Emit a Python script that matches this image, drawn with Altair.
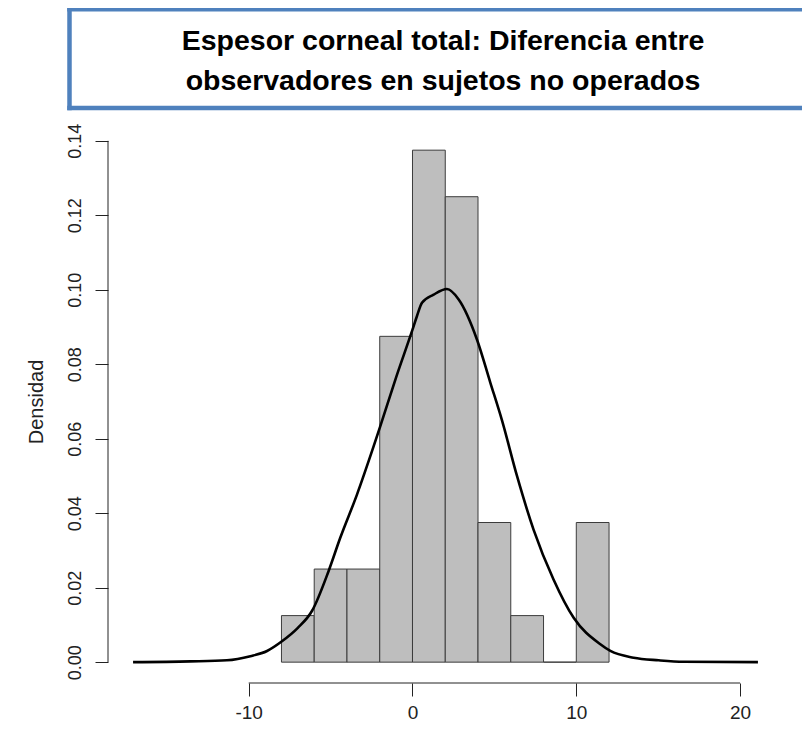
import altair as alt
import pandas as pd

# Histogram (density scale), breaks of width 2
bin_left = [-8, -6, -4, -2, 0, 2, 4, 6, 8, 10]
bin_right = [-6, -4, -2, 0, 2, 4, 6, 8, 10, 12]
bin_density = [0.0125, 0.025, 0.025, 0.0875, 0.1375, 0.125, 0.0375, 0.0125, 0.0, 0.0375]

# Kernel density curve
dens_x = [-17.06, -13.57, -11.33, -9.9, -8.88, -7.97, -7.0, -6.13, -5.12, -4.41, -3.39, -2.37,
          -1.97, -1.0, 0.0, 0.27, 0.58, 1.29, 2.1, 2.82, 3.94, 4.75, 5.46, 6.38, 7.39,
          8.61, 9.84, 11.47, 12.08, 13.5, 15.03, 16.55, 21.09]
dens_y = [0.0, 0.0002, 0.0005, 0.0016, 0.003, 0.0056, 0.0092, 0.0138, 0.0245, 0.0334, 0.045, 0.058,
          0.0633, 0.0765, 0.0893, 0.0929, 0.0965, 0.0987, 0.1002, 0.0974, 0.0866, 0.0751, 0.065,
          0.050, 0.0356, 0.0222, 0.0119, 0.0048, 0.003, 0.0012, 0.0005, 0.0001, 0.0]

x_ticks = [-10, 0, 10, 20]
y_ticks = [0.0, 0.02, 0.04, 0.06, 0.08, 0.10, 0.12, 0.14]

title_lines = ["Espesor corneal total: Diferencia entre",
               "observadores en sujetos no operados"]
y_title = "Densidad"

hist_df = pd.DataFrame({"left": bin_left, "right": bin_right, "density": bin_density})
dens_df = pd.DataFrame({"x": dens_x, "y": dens_y})
xaxis_df = pd.DataFrame({"a": [min(x_ticks)], "b": [max(x_ticks)]})
yaxis_df = pd.DataFrame({"a": [min(y_ticks)], "b": [max(y_ticks)]})
one = hist_df.head(1)

W = 675
H = 563
FONT = "Liberation Sans, Arial, sans-serif"
BLUE = "#4F81BD"

xscale = alt.Scale(domain=[-18.59, 22.62], nice=False, zero=False)
yscale = alt.Scale(domain=[-0.0056, 0.1456], nice=False, zero=False)

xaxis = alt.Axis(values=x_ticks, labelExpr="datum.value + ''", domain=False, grid=False, ticks=True,
                 tickSize=13, tickColor="#222222", labelFontSize=19, labelFont=FONT,
                 labelColor="#222222", labelPadding=7, title=None)
yaxis = alt.Axis(values=y_ticks, format=".2f", domain=False, grid=False, ticks=True,
                 tickSize=13, tickColor="#222222", labelFontSize=18, labelFont=FONT,
                 labelColor="#222222", labelAngle=270, labelAlign="center",
                 labelBaseline="bottom", labelPadding=11,
                 title=y_title, titleFont=FONT, titleFontSize=20, titleFontWeight="normal",
                 titleColor="#222222", titlePadding=20)

bars = alt.Chart(hist_df).mark_rect(fill="#BEBEBE", stroke="#3c3c3c", strokeWidth=1).encode(
    x=alt.X("left:Q", scale=xscale, axis=xaxis),
    x2="right:Q",
    y=alt.Y("density:Q", scale=yscale, axis=yaxis),
    y2=alt.datum(0),
)

curve = alt.Chart(dens_df).mark_line(color="black", strokeWidth=2.6, interpolate="monotone").encode(
    x=alt.X("x:Q", scale=xscale),
    y=alt.Y("y:Q", scale=yscale),
)

x_domain = alt.Chart(xaxis_df).mark_rule(color="#222222", strokeWidth=1).encode(
    x=alt.X("a:Q", scale=xscale), x2="b:Q", y=alt.value(H)
)
y_domain = alt.Chart(yaxis_df).mark_rule(color="#222222", strokeWidth=1).encode(
    y=alt.Y("a:Q", scale=yscale), y2="b:Q", x=alt.value(0)
)

# Title box: left, top and bottom borders (its right side runs off the page)
box_top = alt.Chart(one).mark_rule(color=BLUE, strokeWidth=4.5).encode(
    x=alt.value(-40.75), x2=alt.value(720), y=alt.value(-110.8)
)
box_bottom = alt.Chart(one).mark_rule(color=BLUE, strokeWidth=4.5).encode(
    x=alt.value(-40.75), x2=alt.value(720), y=alt.value(-12)
)
box_left = alt.Chart(one).mark_rule(color=BLUE, strokeWidth=4.5).encode(
    x=alt.value(-38.5), y=alt.value(-113.05), y2=alt.value(-9.75)
)

t1 = alt.Chart(one).mark_text(
    font=FONT, fontSize=28.5, fontWeight="bold", color="black", align="center", baseline="middle"
).encode(x=alt.value(335), y=alt.value(-79), text=alt.value(title_lines[0]))
t2 = alt.Chart(one).mark_text(
    font=FONT, fontSize=28.5, fontWeight="bold", color="black", align="center", baseline="middle"
).encode(x=alt.value(335), y=alt.value(-39), text=alt.value(title_lines[1]))

chart = alt.layer(bars, curve, x_domain, y_domain, box_top, box_bottom, box_left, t1, t2).properties(
    width=W, height=H,
    background="white",
    autosize=alt.AutoSizeParams(type="none"),
    padding={"left": 100, "top": 112, "right": 19, "bottom": 38},
).configure_view(stroke="transparent", strokeWidth=0)

chart.save("out.html", embed_options={"renderer": "svg", "actions": False})
